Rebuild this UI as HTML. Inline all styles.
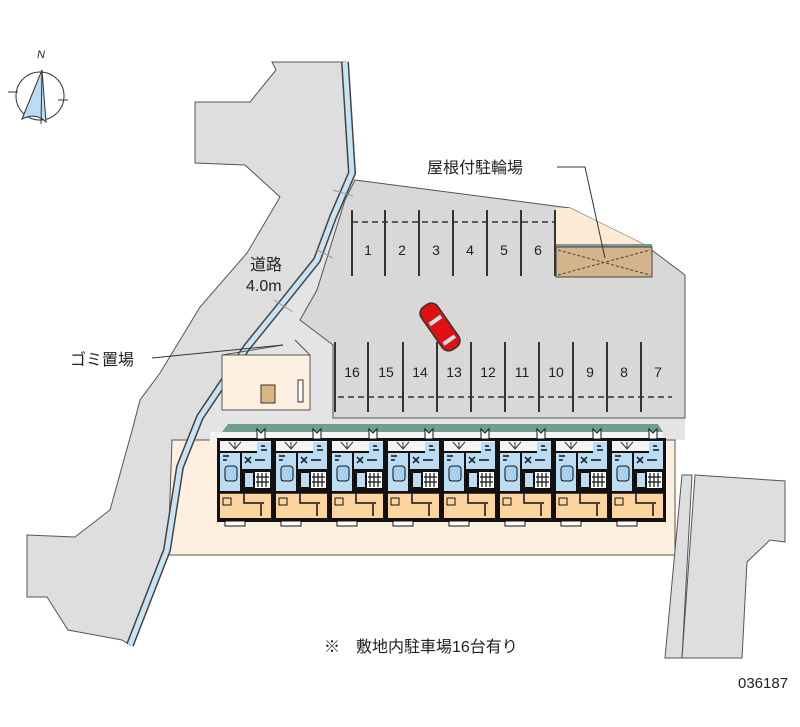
<!DOCTYPE html>
<html><head><meta charset="utf-8"><style>
html,body{margin:0;padding:0;background:#fff}
svg{display:block}
text{font-family:"Liberation Sans","Noto Sans CJK JP",sans-serif;fill:#222}
</style></head><body>
<svg width="800" height="727" viewBox="0 0 800 727" xmlns="http://www.w3.org/2000/svg">
<defs>
<g id="unit">
  <rect x="0" y="14" width="57" height="84" fill="#111"/>
  <rect x="3" y="17" width="51" height="10" fill="#f4f4f4"/>
  <path d="M12 18l6 7 6-7M18 18v7" stroke="#333" stroke-width="1" fill="none"/>
  <rect x="3" y="29" width="20" height="38" fill="#bcdcf4"/>
  <rect x="25" y="29" width="29" height="16" fill="#bcdcf4"/>
  <rect x="40" y="18" width="14" height="11" fill="#bcdcf4"/>
  <path d="M6 32h6M6 36h4M28 33l6 6M34 33l-6 6M44 22h4M44 26h6M38 36h10M8 46h10M8 56h6" stroke="#111" stroke-width="1.5"/>
  <rect x="8" y="42" width="12" height="15" rx="3" fill="#a8d0f0" stroke="#111" stroke-width="1"/>
  <rect x="28" y="49" width="8" height="14" fill="#bcdcf4"/>
  <rect x="38" y="48" width="15" height="16" fill="#fff"/>
  <path d="M41 49v14M45 49v14M49 49v14M39 53h13M39 58h13" stroke="#111" stroke-width="1.2"/>
  <rect x="3" y="69" width="51" height="25" fill="#fdd5a0"/>
  <path d="M27 69v10h20M44 80v12M3 69h51" stroke="#111" stroke-width="1.5" fill="none"/>
  <rect x="6" y="74" width="8" height="7" fill="#fdd5a0" stroke="#111" stroke-width="1"/>
  <rect x="8" y="97" width="20" height="5" fill="#fff" stroke="#111" stroke-width="1"/>
  <path d="M40 5l4 4 4-4v10h-8z" fill="#fff" stroke="#111" stroke-width="1"/>
</g>
</defs>
<!-- compass -->
<circle cx="40" cy="96" r="24" fill="none" stroke="#333" stroke-width="1"/>
<path d="M42 70L22 119 Q36 112 46 122Z" fill="#bcdcf4" stroke="#333" stroke-width="1"/>
<path d="M42 70L41 124M8 92h10M58 100h10" stroke="#333" stroke-width="1"/>
<text x="37" y="58" font-size="11" font-style="italic" font-family="Liberation Serif">N</text>
<!-- road -->
<path d="M272 62L276 70L250 102L195 102L195 163L245 165L280 197L247 253L200 307L160 373L140 400L133 427L110 510L75 537L27 535L27 597L47 597L68 630L122 640L130 645L167 550L180 467L200 417L247 347L277 310L317 260L333 217L352 173L345 62Z" fill="#dedede" stroke="#555" stroke-width="1"/>
<!-- land right of canal -->
<path d="M352 173L355 180L570 208L645 245L685 275L685 440L675 440L675 555L170 555L180 467L200 417L247 347L277 310L317 260L333 217Z" fill="#e4e4e4"/>
<!-- parking lot -->
<path d="M355 180L570 208L645 245L685 275L685 418L333 418L333 345L300 320L317 290L345 200Z" fill="#d8d8d8" stroke="#555" stroke-width="1"/>
<!-- site -->
<path d="M172 440L675 440L675 555L168 555Z" fill="#fdf0e0" stroke="#555" stroke-width="1"/>
<!-- canal -->
<path d="M130 645L167 550L180 467L200 417L247 347L277 310L317 260L333 217L352 173L345 62" fill="none" stroke="#444" stroke-width="8"/>
<path d="M130 645L167 550L180 467L200 417L247 347L277 310L317 260L333 217L352 173L345 62" fill="none" stroke="#c8e4f4" stroke-width="5"/>
<path d="M333 190L353 196M317 250L333 258M274 300L293 312" stroke="#999" stroke-width="1"/>
<!-- gomi -->
<path d="M222 355L310 355L310 410L222 410Z" fill="#fdf0e0" stroke="#555" stroke-width="1"/>
<path d="M295 340L310 355M283 345L222 355" stroke="#555" stroke-width="1"/>
<rect x="261" y="385" width="14" height="18" fill="#d8b880" stroke="#333" stroke-width="1"/>
<rect x="298" y="380" width="5" height="22" fill="#fff" stroke="#333" stroke-width="1"/>
<!-- bike shelter -->
<path d="M556 208L570 208L645 245L556 245Z" fill="#fdebd6"/>
<rect x="556" y="244" width="96" height="4" fill="#7a9a96"/>
<rect x="556" y="247" width="96" height="30" fill="#d4b48a" stroke="#444" stroke-width="1"/>
<path d="M558 250L650 275M558 275L650 250" stroke="#444" stroke-width="1" stroke-dasharray="3,2"/>
<!-- parking lines -->
<g stroke="#333" stroke-width="2">
<path d="M352 210v66M385 210v66M419 210v66M453 210v66M487 210v66M521 210v66M555 210v66"/>
<path d="M335 342v70M368 342v70M403 342v70M437 342v70M471 342v70M505 342v70M539 342v70M573 342v70M607 342v70M641 342v70"/>
</g>
<path d="M352 222H555" stroke="#333" stroke-width="1.5" stroke-dasharray="6,4"/>
<path d="M338 397H672" stroke="#333" stroke-width="1.5" stroke-dasharray="6,4"/>
<g font-size="14" text-anchor="middle">
<text x="368" y="255">1</text><text x="402" y="255">2</text><text x="436" y="255">3</text><text x="470" y="255">4</text><text x="504" y="255">5</text><text x="538" y="255">6</text>
<text x="352" y="377">16</text><text x="386" y="377">15</text><text x="420" y="377">14</text><text x="454" y="377">13</text><text x="488" y="377">12</text><text x="522" y="377">11</text><text x="556" y="377">10</text><text x="590" y="377">9</text><text x="624" y="377">8</text><text x="658" y="377">7</text>
</g>
<!-- car -->
<g transform="translate(440,327) rotate(-35)">
<rect x="-10" y="-26" width="20" height="52" rx="8" fill="#e01010" stroke="#333" stroke-width="1.5"/>
<rect x="-7" y="-10" width="14" height="4" fill="#c8e4f4"/>
<rect x="-7" y="14" width="14" height="4" fill="#c8e4f4"/>
</g>
<!-- building -->
<path d="M228 424L658 424L663 432L222 432Z" fill="#6e9e92"/>
<rect x="210" y="432" width="453" height="10" fill="#f4f4f4"/>
<g transform="translate(217,424)">
<use href="#unit" x="0"/><use href="#unit" x="56"/><use href="#unit" x="112"/><use href="#unit" x="168"/>
<use href="#unit" x="224"/><use href="#unit" x="280"/><use href="#unit" x="336"/><use href="#unit" x="392"/>
</g>
<!-- right area -->
<path d="M682 475L692 475L682 658L665 658Z" fill="#dedede" stroke="#555" stroke-width="1"/>
<path d="M695 475L785 481L785 542L770 540L747 562L742 658L682 658Z" fill="#dedede" stroke="#555" stroke-width="1"/>
<!-- labels -->
<text x="250" y="270" font-size="16">道路</text>
<text x="246" y="291" font-size="16">4.0m</text>
<text x="70" y="365" font-size="16">ゴミ置場</text>
<path d="M152 358L283 345" stroke="#333" stroke-width="1"/>
<text x="427" y="173" font-size="16">屋根付駐輪場</text>
<path d="M557 167L585 167L605 258" stroke="#333" stroke-width="1" fill="none"/>
<text x="324" y="652" font-size="16">※　敷地内駐車場16台有り</text>
<text x="738" y="688" font-size="15">036187</text>
</svg>
</body></html>
